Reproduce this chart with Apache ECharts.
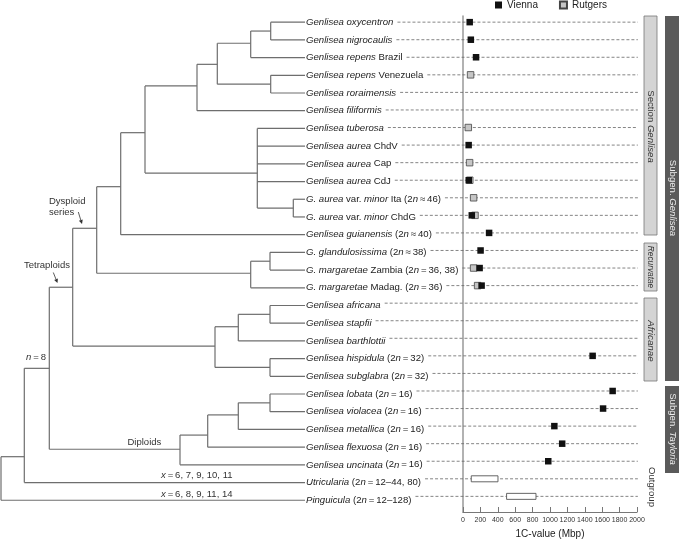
<!DOCTYPE html>
<html><head><meta charset="utf-8">
<script src="https://cdn.jsdelivr.net/npm/echarts@6/dist/echarts.min.js"></script>
<style>html,body{margin:0;padding:0;background:#fff}#c{width:679px;height:544px}</style>
</head><body><div id="c"></div>
<script>
const FONT = '"Liberation Sans", Arial, Helvetica, sans-serif';
const FS = 9.6;
const EQ = '\u2009=\u2009';
const APX = '\u2009\u2248\u2009';

// taxon labels (rows, top to bottom); {i|...} = italic
const taxonLabels = [
  '{i|Genlisea oxycentron}',
  '{i|Genlisea nigrocaulis}',
  '{i|Genlisea repens} Brazil',
  '{i|Genlisea repens} Venezuela',
  '{i|Genlisea roraimensis}',
  '{i|Genlisea filiformis}',
  '{i|Genlisea tuberosa}',
  '{i|Genlisea aurea} ChdV',
  '{i|Genlisea aurea} Cap',
  '{i|Genlisea aurea} CdJ',
  '{i|G. aurea} var. {i|minor} Ita (2{i|n}' + APX + '46)',
  '{i|G. aurea} var. {i|minor} ChdG',
  '{i|Genlisea guianensis} (2{i|n}' + APX + '40)',
  '{i|G. glandulosissima} (2{i|n}' + APX + '38)',
  '{i|G. margaretae} Zambia (2{i|n}' + EQ + '36, 38)',
  '{i|G. margaretae} Madag. (2{i|n}' + EQ + '36)',
  '{i|Genlisea africana}',
  '{i|Genlisea stapfii}',
  '{i|Genlisea barthlottii}',
  '{i|Genlisea hispidula} (2{i|n}' + EQ + '32)',
  '{i|Genlisea subglabra} (2{i|n}' + EQ + '32)',
  '{i|Genlisea lobata} (2{i|n}' + EQ + '16)',
  '{i|Genlisea violacea} (2{i|n}' + EQ + '16)',
  '{i|Genlisea metallica} (2{i|n}' + EQ + '16)',
  '{i|Genlisea flexuosa} (2{i|n}' + EQ + '16)',
  '{i|Genlisea uncinata} (2{i|n}' + EQ + '16)',
  '{i|Utricularia} (2{i|n}' + EQ + '12\u201344, 80)',
  '{i|Pinguicula} (2{i|n}' + EQ + '12\u2013128)'
];

// 1C-values (Mbp)
const viennaMbp = [77, 90, 150, null, null, null, null, 65, null, 66, null, 101, 300, 202, 191, 214,
  null, null, null, 1490, null, 1720, 1610, 1050, 1140, 980, null, null];
const rutgersMbp = [null, null, null, 87, null, null, 61, null, 76, 78, 122, 138, null, null, 122, 168,
  null, null, null, null, null, null, null, null, null, null, null, null];

// outgroup ranges (Mbp)
const rangeRows = [26, 27];
const rangeLow = [95, 501];
const rangeHigh = [402, 839];

// x-axis ticks (Mbp)
const xTicks = [0, 200, 400, 600, 800, 1000, 1200, 1400, 1600, 1800, 2000];

// tree: [node, depth, row position, children (row index or node)]
const treeNodes = [
  ['A', 270.7, 0.5, [0, 1]],
  ['B', 250.7, 1.19, ['A', 2]],
  ['C', 270.7, 3.5, [3, 4]],
  ['D', 217.3, 2.38, ['B', 'C']],
  ['E', 197, 3.6, ['D', 5]],
  ['F', 293.3, 10.5, [10, 11]],
  ['G', 257.3, 8.52, [6, 7, 8, 9, 'F']],
  ['H', 145, 6.24, ['E', 'G']],
  ['I', 120.7, 9.29, ['H', 12]],
  ['J', 270, 13.5, [13, 14]],
  ['K', 250.7, 14.18, ['J', 15]],
  ['L', 96.7, 11.64, ['I', 'K']],
  ['M', 270, 16.5, [16, 17]],
  ['N', 238.3, 17.2, ['M', 18]],
  ['O', 270, 19.5, [19, 20]],
  ['P', 215, 18.29, ['N', 'O']],
  ['Q', 72.7, 14.97, ['L', 'P']],
  ['T', 270, 21.5, [21, 22]],
  ['U', 238.3, 22.18, ['T', 23]],
  ['V', 207.7, 23.32, ['U', 24]],
  ['S', 180, 24.12, ['V', 25]],
  ['R', 49.3, 19.55, ['Q', 'S']],
  ['W', 24.3, 24.54, ['R', 26]],
  ['X', 1, 25.8, ['W', 27]]
];
const leafDepth = 305;

// ---- build ----
const nodeMap = {};
treeNodes.forEach(n => nodeMap[n[0]] = n);
function childPos(c) { return typeof c === 'number' ? [leafDepth, c] : [nodeMap[c][1], nodeMap[c][2]]; }
const treeSegs = [];
treeNodes.forEach(([name, x, y, ch]) => {
  const pts = ch.map(childPos);
  const ys = pts.map(p => p[1]);
  treeSegs.push([x, Math.min(...ys), x, Math.max(...ys)]);
  pts.forEach(p => treeSegs.push([x, p[1], p[0], p[1]]));
});

const ctx = document.createElement('canvas').getContext('2d');
function labelWidth(s) {
  let w = 0; const re = /\{(\w+)\|([^}]*)\}|([^{]+)/g; let m;
  while ((m = re.exec(s))) {
    if (m[1]) { ctx.font = 'italic ' + FS + 'px ' + FONT; w += ctx.measureText(m[2]).width; }
    else { ctx.font = FS + 'px ' + FONT; w += ctx.measureText(m[3]).width; }
  }
  return w;
}
const LABEL_X = 306;
const labelEnds = taxonLabels.map(t => LABEL_X + labelWidth(t) + 4);

const viennaData = [], rutgersData = [];
viennaMbp.forEach((v, i) => { if (v != null) viennaData.push([v, i]); });
rutgersMbp.forEach((v, i) => { if (v != null) rutgersData.push([v, i]); });
const rangeData = rangeRows.map((r, k) => [rangeLow[k], r, rangeHigh[k]]);

const richI = { fontStyle: 'italic', fontSize: FS, fontFamily: FONT, fill: '#222' };

function arrow(x1, y1, x2, y2) {
  const a = Math.atan2(y2 - y1, x2 - x1), L = 4, W = 2;
  const bx = x2 - L * Math.cos(a), by = y2 - L * Math.sin(a);
  return [
    { type: 'line', shape: { x1, y1, x2: bx, y2: by }, style: { stroke: '#333', lineWidth: 0.8 } },
    { type: 'polygon', shape: { points: [[x2, y2], [bx + W * Math.sin(a), by - W * Math.cos(a)], [bx - W * Math.sin(a), by + W * Math.cos(a)]] }, style: { fill: '#333' } }
  ];
}
function vText(text, x, y, size, fill) {
  return { type: 'text', x, y, rotation: -Math.PI / 2,
    style: { text, fontSize: size, fontFamily: FONT, fill, align: 'center', verticalAlign: 'middle',
      rich: { i: { fontStyle: 'italic', fontSize: size, fontFamily: FONT, fill } } } };
}
function hText(text, x, y, size) {
  return { type: 'text', x, y,
    style: { text, fontSize: size, fontFamily: FONT, fill: '#333', align: 'left', verticalAlign: 'middle',
      rich: { i: { fontStyle: 'italic', fontSize: size, fontFamily: FONT, fill: '#333' } } } };
}

const graphics = [
  { type: 'rect', shape: { x: 644, y: 16, width: 13, height: 219 }, style: { fill: '#d4d4d4', stroke: '#777', lineWidth: 0.8 } },
  { type: 'rect', shape: { x: 644, y: 243, width: 13, height: 48 }, style: { fill: '#d4d4d4', stroke: '#777', lineWidth: 0.8 } },
  { type: 'rect', shape: { x: 644, y: 298, width: 13, height: 83 }, style: { fill: '#d4d4d4', stroke: '#777', lineWidth: 0.8 } },
  { type: 'rect', shape: { x: 665, y: 16, width: 20, height: 365 }, style: { fill: '#5a5a5a' } },
  { type: 'rect', shape: { x: 665, y: 386, width: 20, height: 87 }, style: { fill: '#5a5a5a' } },
  vText('Section {i|Genlisea}', 650.5, 126.5, 9.6, '#333'),
  vText('{i|Recurvatae}', 650.5, 267, 8.3, '#333'),
  vText('{i|Africanae}', 650.5, 341, 9.8, '#333'),
  vText('Subgen. {i|Genlisea}', 672.5, 198, 9.6, '#eee'),
  vText('Subgen. {i|Tayloria}', 672.5, 429, 9.6, '#eee'),
  vText('Outgroup', 652, 487, 9.6, '#333'),
  hText('Dysploid', 49, 201, 9.5),
  hText('series', 49, 212.7, 9.5),
  hText('Tetraploids', 24, 265, 9.5),
  hText('{i|n}\u2009=\u20098', 26, 357, 9.5),
  hText('Diploids', 127.5, 442.7, 9.5),
  hText('{i|x}\u2009=\u20096, 7, 9, 10, 11', 161, 475, 9.5),
  hText('{i|x}\u2009=\u20096, 8, 9, 11, 14', 161, 494, 9.5),
  ...arrow(78.3, 212, 82, 224),
  ...arrow(53.3, 272.5, 57.5, 283)
];

const chart = echarts.init(document.getElementById('c'), null, { renderer: 'canvas' });
chart.setOption({
  animation: false,
  backgroundColor: '#fff',
  legend: {
    data: ['Vienna', 'Rutgers'], left: 495, top: 0, padding: 0,
    itemWidth: 7, itemHeight: 7, itemGap: 21, icon: 'rect',
    textStyle: { fontSize: 10, color: '#222', fontFamily: FONT }
  },
  grid: [
    { left: 463, top: 16, width: 174, height: 500 },
    { left: 0, top: 16, width: 305, height: 500 }
  ],
  xAxis: [
    { gridIndex: 0, type: 'value', min: xTicks[0], max: xTicks[xTicks.length - 1], interval: xTicks[1] - xTicks[0],
      axisLine: { show: true, onZero: false, lineStyle: { color: '#777', width: 1.2 } },
      axisTick: { show: true, inside: true, length: 5, lineStyle: { color: '#777', width: 1 } },
      axisLabel: { fontSize: 7, color: '#333', margin: 5, fontFamily: FONT, interval: 0,
        showMinLabel: true, showMaxLabel: true, hideOverlap: false, formatter: v => String(v) },
      splitLine: { show: false },
      name: '1C-value (Mbp)', nameLocation: 'middle', nameGap: 17,
      nameTextStyle: { fontSize: 10, color: '#222', fontFamily: FONT } },
    { gridIndex: 1, type: 'value', min: 0, max: 305, show: false }
  ],
  yAxis: [
    { gridIndex: 0, type: 'value', min: -0.35, max: 27.89, inverse: true,
      axisLine: { show: true, onZero: false, lineStyle: { color: '#999', width: 1.5 } },
      axisTick: { show: false }, axisLabel: { show: false }, splitLine: { show: false } },
    { gridIndex: 1, type: 'value', min: -0.35, max: 27.89, inverse: true, show: false }
  ],
  graphic: graphics,
  series: [
    { type: 'custom', name: 'tree', xAxisIndex: 1, yAxisIndex: 1, silent: true, data: treeSegs,
      renderItem: (params, api) => {
        const p1 = api.coord([api.value(0), api.value(1)]);
        const p2 = api.coord([api.value(2), api.value(3)]);
        return { type: 'line', shape: { x1: p1[0], y1: p1[1], x2: p2[0], y2: p2[1] },
          style: { stroke: '#6e6e6e', lineWidth: 1.2 } };
      } },
    { type: 'custom', name: 'labels', xAxisIndex: 1, yAxisIndex: 1, silent: true,
      data: taxonLabels.map((t, i) => [leafDepth, i]),
      renderItem: (params, api) => {
        const p = api.coord([api.value(0), api.value(1)]);
        return { type: 'text', x: LABEL_X, y: p[1],
          style: { text: taxonLabels[params.dataIndex], fontSize: FS, fontFamily: FONT, fill: '#222',
            align: 'left', verticalAlign: 'middle', rich: { i: richI } } };
      } },
    { type: 'custom', name: 'guides', xAxisIndex: 0, yAxisIndex: 0, silent: true,
      data: taxonLabels.map((t, i) => [2010, i]),
      renderItem: (params, api) => {
        const p = api.coord([api.value(0), api.value(1)]);
        return { type: 'line', shape: { x1: labelEnds[params.dataIndex], y1: p[1], x2: p[0], y2: p[1] },
          style: { stroke: '#666', lineWidth: 0.8, lineDash: [3, 2] } };
      } },
    { type: 'custom', name: 'ranges', xAxisIndex: 0, yAxisIndex: 0, silent: true, data: rangeData, z: 3,
      renderItem: (params, api) => {
        const a = api.coord([api.value(0), api.value(1)]);
        const b = api.coord([api.value(2), api.value(1)]);
        return { type: 'rect', shape: { x: a[0], y: a[1] - 3, width: b[0] - a[0], height: 6 },
          style: { fill: '#fff', stroke: '#555', lineWidth: 0.9 } };
      } },
    { type: 'scatter', name: 'Rutgers', xAxisIndex: 0, yAxisIndex: 0, data: rutgersData,
      symbol: 'rect', symbolSize: 6.5, z: 4,
      itemStyle: { color: '#c6c6c6', borderColor: '#444', borderWidth: 0.8, opacity: 1 } },
    { type: 'scatter', name: 'Vienna', xAxisIndex: 0, yAxisIndex: 0, data: viennaData,
      symbol: 'rect', symbolSize: 6.5, z: 5,
      itemStyle: { color: '#111', opacity: 1 } }
  ]
});
</script></body></html>
